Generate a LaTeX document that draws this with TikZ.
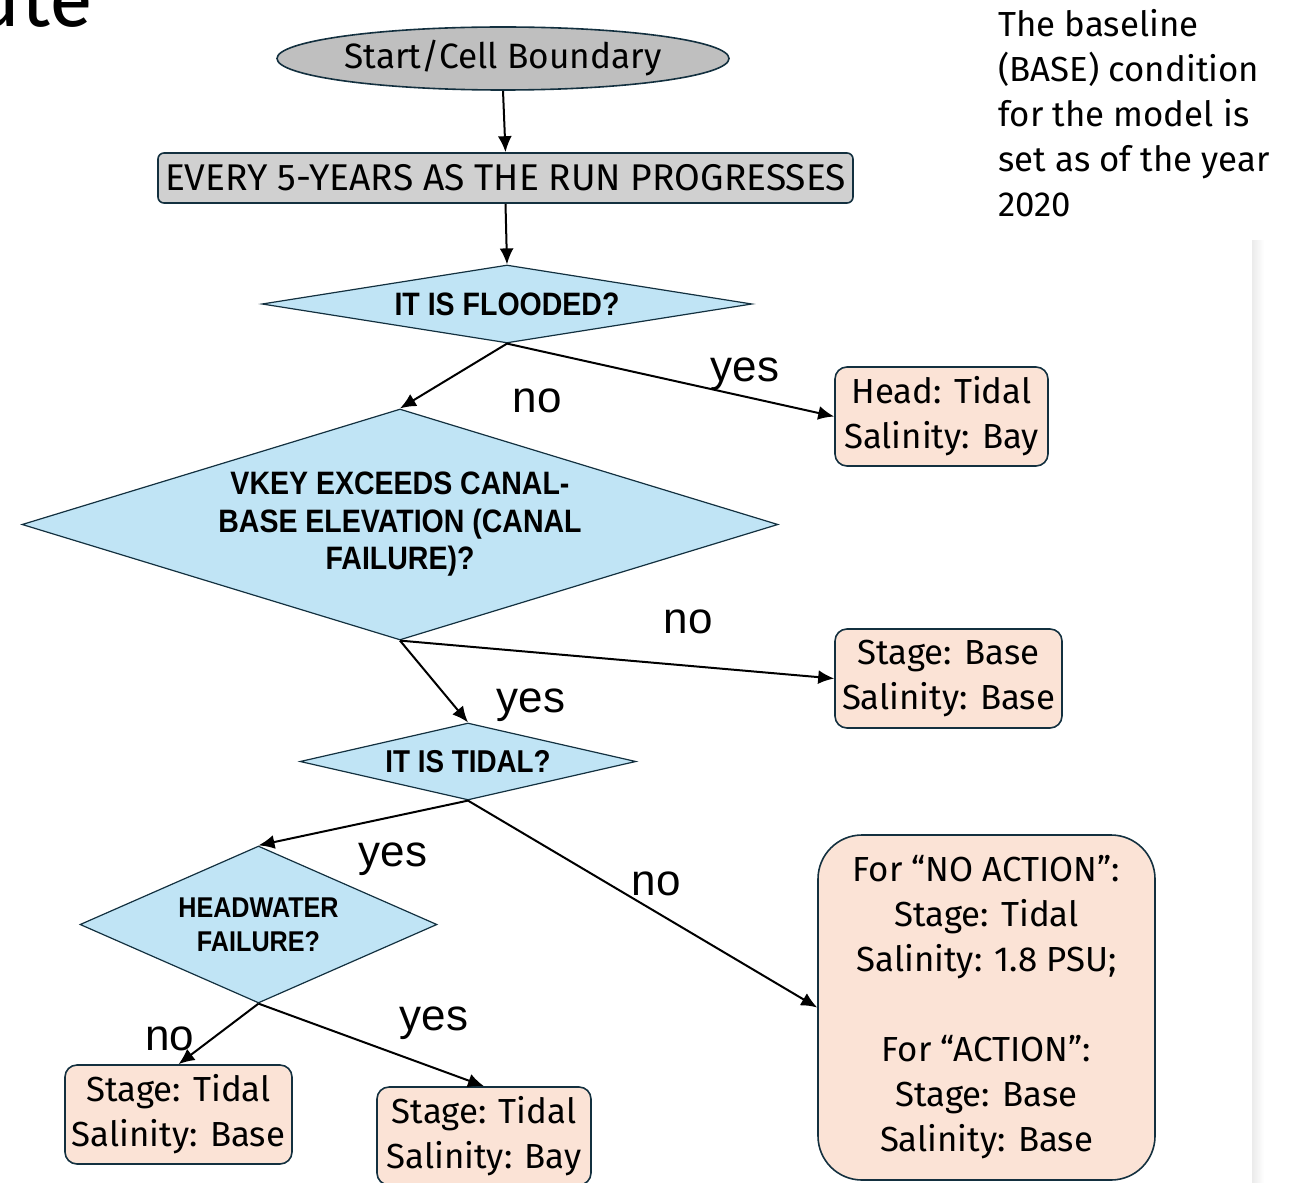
\documentclass[tikz,border=0pt]{standalone}
\usepackage{fontspec}
\setmainfont{Fira Sans}
\newfontfamily\answerfont{Liberation Sans}
\newfontfamily\askfont[FakeStretch=0.88]{Liberation Sans}
\usetikzlibrary{shapes.geometric,arrows.meta}
\definecolor{edgenavy}{HTML}{13303F}
\definecolor{startgray}{HTML}{BFBFBF}
\definecolor{bargray}{HTML}{D0D0D0}
\definecolor{askblue}{HTML}{C0E4F5}
\definecolor{resultpeach}{HTML}{FBE3D6}

\begin{document}
\begin{tikzpicture}[x=0.5pt,y=-0.5pt,
	startnode/.style={ellipse,draw=edgenavy,line width=0.8pt,fill=startgray,inner sep=0pt,font=\fontsize{17.6}{21}\selectfont},
	barnode/.style={rectangle,rounded corners=3pt,draw=edgenavy,line width=0.8pt,fill=bargray,inner sep=0pt,font=\fontsize{18.6}{21}\selectfont},
	asknode/.style 2 args={diamond,draw=edgenavy,line width=0.6pt,fill=askblue,inner sep=0pt,align=center,font=\askfont\bfseries\fontsize{#1}{#2}\selectfont},
	resultnode/.style={rectangle,rounded corners=6pt,draw=edgenavy,line width=0.8pt,fill=resultpeach,inner sep=0pt,align=center,font=\fontsize{17.4}{22.5}\selectfont},
	flow/.style={line width=1pt,-{Latex[length=8pt,width=7pt]}},
	answer/.style={inner sep=0pt,font=\answerfont\fontsize{22}{26}\selectfont}]
	\useasboundingbox (0,0) rectangle (1294,1182);
	\clip (0,0) rectangle (1294,1182);
	
	% slide leftovers
	\node[anchor=base east,inner sep=0pt,font=\fontsize{40}{44}\selectfont] (title) at (93,27) {ute};
	\shade[left color=black!8,right color=white] (1252,240) rectangle (1264,1182);
	\node[anchor=north west,align=left,inner sep=0pt,font=\fontsize{17.4}{22.5}\selectfont] (note) at (998,9)
		{The baseline\\(BASE) condition\\for the model is\\set as of the year\\2020};
	
	% flow chart
	\node[startnode,minimum width=226pt,minimum height=31.5pt] (start) at (503,58.5) {Start/Cell Boundary};
	\node[barnode,minimum width=347.5pt,minimum height=25pt] (every) at (505.5,178) {EVERY 5-YEARS AS THE RUN PROGRESSES};
	\node[asknode={16.2}{19},shape aspect=6.3,minimum width=245pt,minimum height=39pt] (flood) at (507,304) {IT IS FLOODED?};
	\node[asknode={16.2}{18.75},shape aspect=3.27,minimum width=378pt,minimum height=115.5pt] (vkey) at (400,524.5)
		{VKEY EXCEEDS CANAL-\\BASE ELEVATION (CANAL\\FAILURE)?};
	\node[asknode={15.8}{19},shape aspect=4.36,minimum width=168pt,minimum height=38.5pt] (tidal) at (468,761.5) {IT IS TIDAL?};
	\node[asknode={14.3}{17},shape aspect=2.27,minimum width=178.5pt,minimum height=78.5pt] (headwater) at (258.5,924.5)
		{HEADWATER\\FAILURE?};
	
	\node[resultnode,minimum width=106.5pt,minimum height=49.5pt] (head) at (941.5,416.5) {Head: Tidal\\Salinity: Bay};
	\node[resultnode,minimum width=113.5pt,minimum height=49.5pt] (stagebase) at (948.5,678.5) {Stage: Base\\Salinity: Base};
	\node[resultnode,rounded corners=22pt,minimum width=168.5pt,minimum height=172.5pt] (action) at (986.5,1007.5)
		{For “NO ACTION”:\\Stage: Tidal\\Salinity: 1.8 PSU;\\[22.5pt]For “ACTION”:\\Stage: Base\\Salinity: Base};
	\node[resultnode,minimum width=113.5pt,minimum height=49.5pt] (tidalbase) at (178.5,1114.5) {Stage: Tidal\\Salinity: Base};
	\node[resultnode,minimum width=107pt,minimum height=49pt] (tidalbay) at (484,1136) {Stage: Tidal\\Salinity: Bay};
	
	\draw[flow] (start.south) -- (every.north);
	\draw[flow] (every.south) -- (flood.north);
	\draw[flow] (flood.south) -- (vkey.north);
	\draw[flow] (flood.south) -- (head.west);
	\draw[flow] (vkey.south) -- (stagebase.west);
	\draw[flow] (vkey.south) -- (tidal.north);
	\draw[flow] (tidal.south) -- (headwater.north);
	\draw[flow] (tidal.south) -- (action.west);
	\draw[flow] (headwater.south) -- (tidalbase.north);
	\draw[flow] (headwater.south) -- (tidalbay.north);
	
	% answers
	\node[answer] (floodyes) at (745,374) {yes};
	\node[answer] (floodno) at (537,401) {no};
	\node[answer] (vkeyno) at (688,622) {no};
	\node[answer] (vkeyyes) at (531,705) {yes};
	\node[answer] (tidalyes) at (393,859) {yes};
	\node[answer] (tidalno) at (656,884) {no};
	\node[answer] (headwaterno) at (170,1039) {no};
	\node[answer] (headwateryes) at (434,1023) {yes};
\end{tikzpicture}
\end{document}
